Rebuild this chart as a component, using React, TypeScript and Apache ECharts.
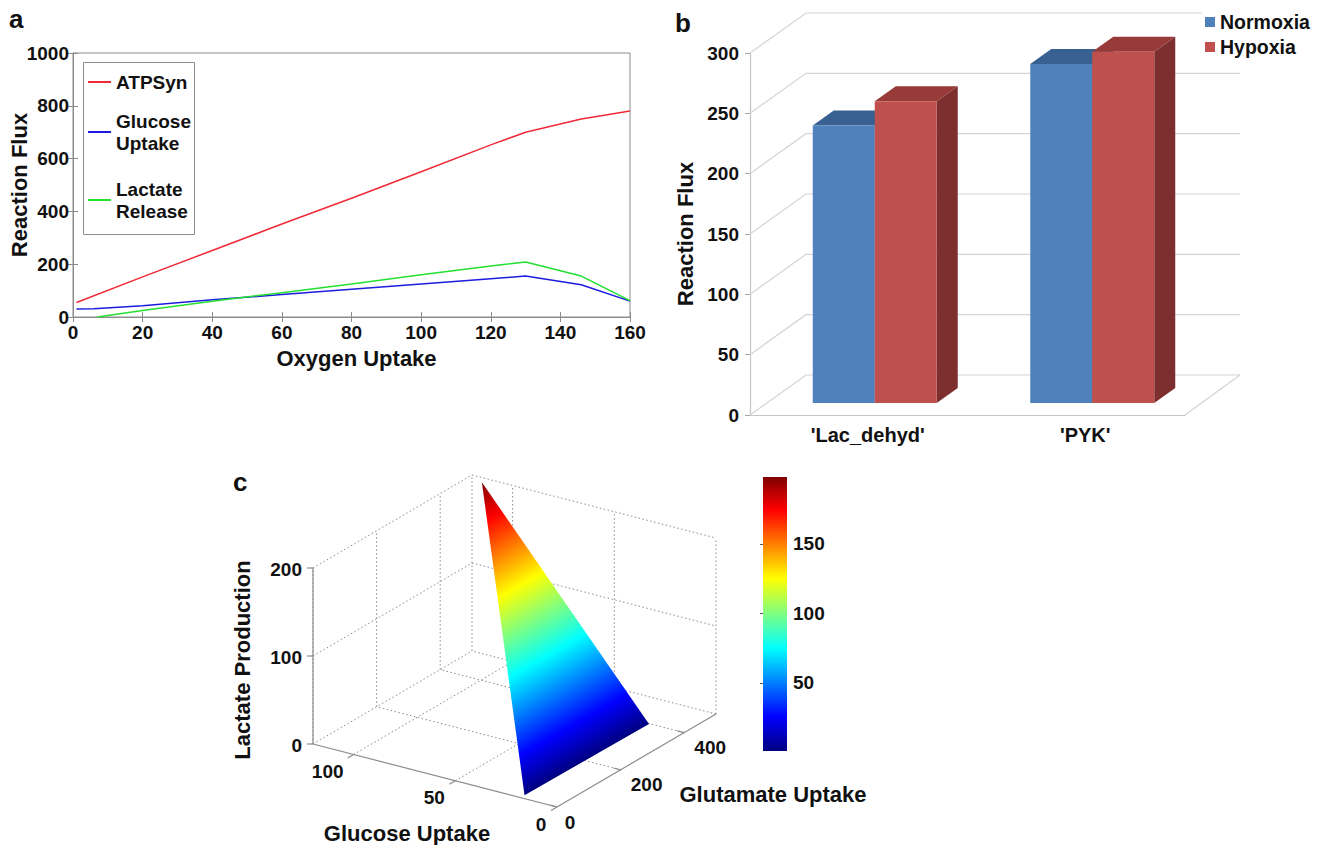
import React, { useEffect, useRef } from "react";
import * as echarts from "echarts";

// ---------- Panel a data ----------
const atpX = [1, 20, 40, 60, 80, 100, 120, 130, 146, 160];
const atpY = [55, 152, 252, 352, 450, 550, 652, 700, 750, 780];
const glucoseX = [1, 6, 20, 40, 60, 80, 100, 120, 130, 146, 160];
const glucoseY = [30, 31, 43, 65, 85, 105, 125, 145, 155, 122, 60];
const lactateX = [7, 20, 40, 60, 80, 100, 120, 130, 146, 160];
const lactateY = [0, 25, 60, 92, 125, 160, 193, 208, 155, 62];

// ---------- Panel b data ----------
const barCategories = ["'Lac_dehyd'", "'PYK'"];
const normoxia = [230, 281];
const hypoxia = [250, 291];
const barTicks = [0, 50, 100, 150, 200, 250, 300];

// ---------- Panel c data ----------
const surfaceGlucose = [18, 17, 115];
const surfaceGlutamate = [13, 398, 499];
const surfaceLactate = [0, 0, 195];
const glucoseTicks = [0, 50, 100];
const glutamateTicks = [0, 200, 400];
const lactateTicks = [0, 100, 200];
const colorbarTicks = [50, 100, 150];
const colorbarRange = [1, 198];

const FONT = "Liberation Sans";
const GRAY = "#8c8c8c";
const JET: [number, string][] = [
  [0, "#00007f"],
  [0.125, "#0000ff"],
  [0.375, "#00ffff"],
  [0.63, "#ffff00"],
  [0.88, "#ff0000"],
  [1, "#7f0000"],
];

const zip = (xs: number[], ys: number[]) => xs.map((x, i) => [x, ys[i]]);
const tickLabel = { fontFamily: FONT, fontWeight: "bold", fontSize: 19, color: "#111" };
const nameStyle = { fontFamily: FONT, fontWeight: "bold", fontSize: 22, color: "#111" };

// 3D box projection for panel c
const G_MAX = 120;
const U_MAX = 500;
const L_MAX = 200;
function project(g: number, u: number, l: number): [number, number] {
  return [
    557 - (244 * g) / G_MAX + (159 * u) / U_MAX,
    807 - (63 * g) / G_MAX - (93 * u) / U_MAX - (176 * l) / L_MAX,
  ];
}

function txt(text: string, x: number, y: number, size = 19, align = "center", rotation = 0) {
  return {
    type: "text",
    x,
    y,
    rotation,
    style: { text, fontFamily: FONT, fontWeight: "bold", fontSize: size, fill: "#111", align, verticalAlign: "middle" },
  };
}
function seg(a: [number, number], b: [number, number], dotted = true) {
  return {
    type: "line",
    shape: { x1: a[0], y1: a[1], x2: b[0], y2: b[1] },
    style: dotted
      ? { stroke: "#8a8a8a", lineWidth: 1, lineDash: [1.5, 2.5] }
      : { stroke: GRAY, lineWidth: 1.2 },
  };
}

function renderBox() {
  const ch: any[] = [];
  // floor grid
  [...glucoseTicks.slice(1), G_MAX].forEach((g) => ch.push(seg(project(g, 0, 0), project(g, U_MAX, 0))));
  [...glutamateTicks.slice(1), U_MAX].forEach((u) => ch.push(seg(project(0, u, 0), project(G_MAX, u, 0))));
  // glucose-max wall
  [...glutamateTicks, U_MAX].forEach((u) => ch.push(seg(project(G_MAX, u, 0), project(G_MAX, u, L_MAX))));
  lactateTicks.slice(1).forEach((l) => ch.push(seg(project(G_MAX, 0, l), project(G_MAX, U_MAX, l))));
  // glutamate-max wall
  [...glucoseTicks].forEach((g) => ch.push(seg(project(g, U_MAX, 0), project(g, U_MAX, L_MAX))));
  lactateTicks.slice(1).forEach((l) => ch.push(seg(project(G_MAX, U_MAX, l), project(0, U_MAX, l))));
  // solid axes
  ch.push(seg(project(G_MAX, 0, 0), project(G_MAX, 0, L_MAX), false));
  ch.push(seg(project(0, 0, 0), project(G_MAX, 0, 0), false));
  ch.push(seg(project(0, 0, 0), project(0, U_MAX, 0), false));
  // ticks
  glucoseTicks.forEach((g) => ch.push(seg(project(g, 0, 0), project(g, 0, 0).map((v, i) => v + [-6, 3.5][i]) as any, false)));
  glutamateTicks.forEach((u) => ch.push(seg(project(0, u, 0), project(0, u, 0).map((v, i) => v + [-7, -1.8][i]) as any, false)));
  lactateTicks.forEach((l) => {
    const p = project(G_MAX, 0, l);
    ch.push(seg(p, [p[0] - 6, p[1]], false));
  });
  // tick labels
  lactateTicks.forEach((l) => {
    const p = project(G_MAX, 0, l);
    ch.push(txt(String(l), p[0] - 11, p[1] + 1, 19, "right"));
  });
  glucoseTicks.forEach((g) => {
    const p = project(g, 0, 0);
    ch.push(txt(String(g), p[0] - 16 - g * 0.1, p[1] + 17));
  });
  glutamateTicks.forEach((u) => {
    const p = project(0, u, 0);
    ch.push(txt(String(u), p[0] + 18 + (u > 0 ? 8 : -5), p[1] + 15));
  });
  // axis names
  ch.push(txt("Lactate Production", 242, 660, 22, "center", Math.PI / 2));
  ch.push(txt("Glucose Uptake", 407, 833, 22));
  ch.push(txt("Glutamate Uptake", 773, 794, 22));
  return { type: "group", children: ch };
}

function renderSurface() {
  const pts = surfaceGlucose.map((g, i) => project(g, surfaceGlutamate[i], surfaceLactate[i]));
  const [p1, p2, apex] = pts;
  const ex = p2[0] - p1[0];
  const ey = p2[1] - p1[1];
  const t = ((apex[0] - p1[0]) * ex + (apex[1] - p1[1]) * ey) / (ex * ex + ey * ey);
  const foot = [p1[0] + t * ex, p1[1] + t * ey];
  return {
    type: "polygon",
    shape: { points: pts },
    style: {
      fill: new echarts.graphic.LinearGradient(
        foot[0],
        foot[1],
        apex[0],
        apex[1],
        JET.map(([offset, color]) => ({ offset, color })),
        true
      ),
    },
  };
}

const renderWall = (params: any, api: any) => {
  const v = api.value(1);
  const cs = params.coordSys;
  const y = api.coord([0, v])[1];
  const x0 = cs.x;
  const x1 = cs.x + cs.width;
  const bx = x0 + 56;
  const by = y - 40;
  // the topmost line stops short of the legend
  const end = v === barTicks[barTicks.length - 1] ? x1 + 17 : x1 + 55;
  const children: any[] = [
    {
      type: "polyline",
      shape: { points: [[x0, y], [bx, by], [end, by]] },
      style: { stroke: "#d4d4d4", lineWidth: 1.2, fill: "none" },
    },
  ];
  if (v === 0) {
    children.push({
      type: "line",
      shape: { x1, y1: y, x2: x1 + 55, y2: by },
      style: { stroke: "#d4d4d4", lineWidth: 1.2 },
    });
  }
  return { type: "group", children };
};

const renderBar = (left: number, right: number, front: string, top: string, side: string) => (_p: any, api: any) => {
  const idx = api.value(0);
  const c = api.coord([idx, api.value(1)]);
  const base = api.coord([idx, 0]);
  const x0 = c[0] + left;
  const x1 = c[0] + right;
  const yT = c[1] - 12;
  const yB = base[1] - 12;
  const dx = 21;
  const dy = -15;
  return {
    type: "group",
    children: [
      { type: "polygon", shape: { points: [[x1, yT], [x1 + dx, yT + dy], [x1 + dx, yB + dy], [x1, yB]] }, style: { fill: side } },
      { type: "polygon", shape: { points: [[x0, yT], [x0 + dx, yT + dy], [x1 + dx, yT + dy], [x1, yT]] }, style: { fill: top } },
      { type: "rect", shape: { x: x0, y: yT, width: x1 - x0, height: yB - yT }, style: { fill: front } },
    ],
  };
};

const renderColorbar = (_p: any, api: any) => {
  const a = api.coord([0, api.value(1)]);
  const b = api.coord([1, api.value(0)]);
  return {
    type: "rect",
    shape: { x: a[0], y: a[1], width: b[0] - a[0], height: b[1] - a[1] },
    style: {
      fill: new echarts.graphic.LinearGradient(
        0, 1, 0, 0,
        JET.map(([offset, color]) => ({ offset, color }))
      ),
    },
  };
};

function legendAt(name: string, left: number, top: number, w: number, h: number, size: number) {
  return {
    data: [name],
    left,
    top,
    padding: 0,
    itemWidth: w,
    itemHeight: h,
    icon: "rect",
    selectedMode: false,
    textStyle: { fontFamily: FONT, fontWeight: "bold", fontSize: size, color: "#111", lineHeight: 22 },
  };
}

const option: any = {
  animation: false,
  backgroundColor: "#fff",
  tooltip: { show: false },
  grid: [
    { left: 73, top: 53, width: 557, height: 264, show: true, borderColor: GRAY, borderWidth: 1, backgroundColor: "transparent" },
    { left: 750, top: 53, width: 435, height: 362 },
    { left: 763, top: 477, width: 24, height: 274 },
  ],
  xAxis: [
    {
      gridIndex: 0, type: "value", min: 0, max: 160, interval: 20,
      name: "Oxygen Uptake", nameLocation: "middle", nameGap: 30, nameMoveOverlap: false,
      nameTextStyle: { ...nameStyle, padding: [0, 0, 0, 10] },
      axisLine: { lineStyle: { color: GRAY } },
      axisTick: { inside: true, length: 5, lineStyle: { color: GRAY } },
      axisLabel: { ...tickLabel, margin: 6 }, splitLine: { show: false },
    },
    {
      gridIndex: 0, type: "value", min: 0, max: 160, interval: 20, position: "top",
      axisLine: { lineStyle: { color: GRAY } },
      axisTick: { inside: true, length: 5, lineStyle: { color: GRAY } },
      axisLabel: { show: false }, splitLine: { show: false },
    },
    {
      gridIndex: 1, type: "category", data: barCategories,
      axisLine: { lineStyle: { color: "#c4c4c4", width: 1.2 } },
      axisTick: { length: 5, lineStyle: { color: "#c4c4c4" } },
      axisLabel: { ...tickLabel, fontSize: 20, margin: 10, padding: [0, 0, 0, 18] },
    },
    { gridIndex: 2, type: "value", min: 0, max: 1, show: false },
  ],
  yAxis: [
    {
      gridIndex: 0, type: "value", min: 0, max: 1000, interval: 200,
      name: "Reaction Flux", nameLocation: "middle", nameGap: 43, nameMoveOverlap: false, nameTextStyle: nameStyle,
      axisLine: { show: true, lineStyle: { color: GRAY } },
      axisTick: { show: true, inside: true, length: 5, lineStyle: { color: GRAY } },
      axisLabel: { ...tickLabel, margin: 4, formatter: (v: number) => String(v) }, splitLine: { show: false },
    },
    {
      gridIndex: 0, type: "value", min: 0, max: 1000, interval: 200, position: "right",
      axisLine: { show: true, lineStyle: { color: GRAY } },
      axisTick: { show: true, inside: true, length: 5, lineStyle: { color: GRAY } },
      axisLabel: { show: false }, splitLine: { show: false },
    },
    {
      gridIndex: 1, type: "value", min: 0, max: 300, interval: 50,
      name: "Reaction Flux", nameLocation: "middle", nameGap: 54, nameMoveOverlap: false, nameTextStyle: nameStyle,
      axisLine: { show: true, lineStyle: { color: "#c4c4c4", width: 1.2 } },
      axisTick: { show: true, length: 5, lineStyle: { color: "#a8a8a8" } },
      axisLabel: { ...tickLabel, margin: 11 }, splitLine: { show: false },
    },
    {
      gridIndex: 2, type: "value", min: colorbarRange[0], max: colorbarRange[1], position: "right",
      axisLine: { show: false },
      axisTick: { show: true, inside: true, length: 3, customValues: colorbarTicks, lineStyle: { color: "#555" } },
      axisLabel: { ...tickLabel, margin: 6, customValues: colorbarTicks }, splitLine: { show: false },
    },
  ],
  legend: [
    legendAt("ATPSyn", 88, 71, 23, 2, 19),
    legendAt("Glucose\nUptake", 88, 110, 23, 2, 19),
    legendAt("Lactate\nRelease", 88, 178, 23, 2, 19),
    legendAt("Normoxia", 1205, 11, 10, 10, 19.5),
    legendAt("Hypoxia", 1205, 36, 10, 10, 19.5),
  ],
  graphic: [
    { type: "rect", z: 3, shape: { x: 83.5, y: 62.5, width: 111, height: 172 }, style: { fill: "#fff", stroke: GRAY, lineWidth: 1 } },
    { type: "text", left: 9, top: 6, style: { text: "a", fontFamily: FONT, fontWeight: "bold", fontSize: 26, fill: "#111" } },
    { type: "text", left: 675, top: 10, style: { text: "b", fontFamily: FONT, fontWeight: "bold", fontSize: 26, fill: "#111" } },
    { type: "text", left: 233, top: 469, style: { text: "c", fontFamily: FONT, fontWeight: "bold", fontSize: 26, fill: "#111" } },
  ],
  series: [
    { name: "ATPSyn", type: "line", xAxisIndex: 0, yAxisIndex: 0, data: zip(atpX, atpY), showSymbol: false, symbol: "none", lineStyle: { color: "#f02a36", width: 1.5 }, itemStyle: { color: "#f02a36" } },
    { name: "Glucose\nUptake", type: "line", xAxisIndex: 0, yAxisIndex: 0, data: zip(glucoseX, glucoseY), showSymbol: false, symbol: "none", lineStyle: { color: "#1c1ce0", width: 1.5 }, itemStyle: { color: "#1c1ce0" } },
    { name: "Lactate\nRelease", type: "line", xAxisIndex: 0, yAxisIndex: 0, data: zip(lactateX, lactateY), showSymbol: false, symbol: "none", lineStyle: { color: "#24e030", width: 1.5 }, itemStyle: { color: "#24e030" } },
    { name: "walls", type: "custom", xAxisIndex: 2, yAxisIndex: 2, z: 1, silent: true, data: barTicks.map((v) => [0, v]), renderItem: renderWall },
    { name: "Normoxia", type: "custom", xAxisIndex: 2, yAxisIndex: 2, z: 2, silent: true, itemStyle: { color: "#4f81bd" }, data: normoxia.map((v, i) => [i, v]), renderItem: renderBar(-46, 16, "#4f81bd", "#386090", "#2f5480") },
    { name: "Hypoxia", type: "custom", xAxisIndex: 2, yAxisIndex: 2, z: 3, silent: true, itemStyle: { color: "#c0504d" }, data: hypoxia.map((v, i) => [i, v]), renderItem: renderBar(16, 78, "#c0504d", "#983a38", "#7d2f2f") },
    { name: "box", type: "custom", coordinateSystem: "none", z: 1, silent: true, data: [[0]], renderItem: renderBox },
    { name: "surface", type: "custom", coordinateSystem: "none", z: 2, silent: true, data: [[0]], renderItem: renderSurface },
    { name: "colorbar", type: "custom", xAxisIndex: 3, yAxisIndex: 3, silent: true, data: [colorbarRange], renderItem: renderColorbar },
  ],
};

export default function App() {
  const ref = useRef<HTMLDivElement>(null);
  useEffect(() => {
    const chart = echarts.init(ref.current!, undefined, { renderer: "svg" });
    chart.setOption(option);
    return () => chart.dispose();
  }, []);
  return <div ref={ref} style={{ position: "absolute", left: 0, top: 0, width: 1326, height: 845 }} />;
}
